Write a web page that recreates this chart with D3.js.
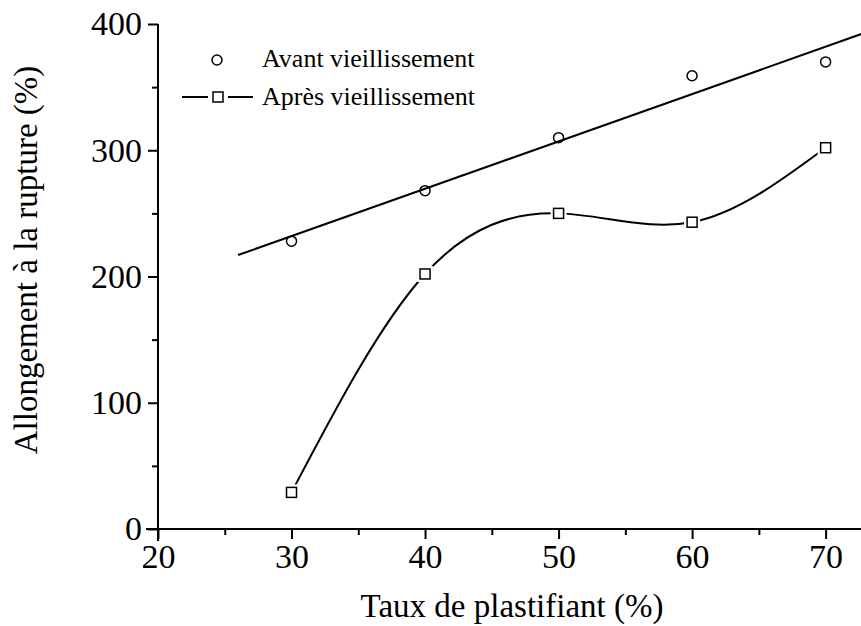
<!DOCTYPE html>
<html>
<head>
<meta charset="utf-8">
<script src="https://cdn.jsdelivr.net/npm/d3@7"></script>
<style>
  body { margin: 0; background: #fff; }
  svg text { font-family: "Liberation Serif", "Times New Roman", serif; }
</style>
</head>
<body>
<script>
// data
const taux = [30, 40, 50, 60, 70];
const avant = [228, 268, 310, 359, 370];
const apres = [29, 202, 250, 243, 302];
const xTicks = [20, 30, 40, 50, 60, 70];
const yTicks = [0, 100, 200, 300, 400];
const fitRange = [26, 73];

const W = 861, H = 626;
const margin = { top: 24, right: 0, bottom: 97, left: 158 };
const serif = "Liberation Serif, Times New Roman, serif";

const svg = d3.select("body").append("svg")
  .attr("width", W)
  .attr("height", H);

const x = d3.scaleLinear()
  .domain([20, 72.65])
  .range([margin.left, W - margin.right]);

const y = d3.scaleLinear()
  .domain([0, 400])
  .range([H - margin.bottom, margin.top]);

// clip so the fit line stops at the right edge
svg.append("clipPath").attr("id", "clip")
  .append("rect")
  .attr("x", margin.left).attr("y", 0)
  .attr("width", W - margin.left).attr("height", H - margin.bottom);

// least squares fit of the "avant" points
const mx = d3.mean(taux), my = d3.mean(avant);
const slope = d3.sum(taux, (t, i) => (t - mx) * (avant[i] - my)) / d3.sum(taux, t => (t - mx) ** 2);
const icpt = my - slope * mx;

const line = d3.line().x(d => x(d[0])).y(d => y(d[1]));

svg.append("path")
  .attr("clip-path", "url(#clip)")
  .attr("d", line(fitRange.map(t => [t, icpt + slope * t])))
  .attr("fill", "none")
  .attr("stroke", "#000")
  .attr("stroke-width", 2);

// spline through "apres"
svg.append("path")
  .attr("d", line.curve(d3.curveNatural)(taux.map((t, i) => [t, apres[i]])))
  .attr("fill", "none")
  .attr("stroke", "#000")
  .attr("stroke-width", 2);

// gaps around the square markers
svg.append("g")
  .selectAll("rect")
  .data(taux)
  .join("rect")
  .attr("x", (d, i) => x(d) - 8)
  .attr("y", (d, i) => y(apres[i]) - 8)
  .attr("width", 16)
  .attr("height", 16)
  .attr("fill", "#fff");

svg.append("g")
  .attr("fill", "#fff")
  .attr("stroke", "#000")
  .attr("stroke-width", 1.5)
  .selectAll("rect")
  .data(taux)
  .join("rect")
  .attr("x", (d, i) => x(d) - 5)
  .attr("y", (d, i) => y(apres[i]) - 5)
  .attr("width", 10)
  .attr("height", 10);

svg.append("g")
  .attr("fill", "none")
  .attr("stroke", "#000")
  .attr("stroke-width", 1.5)
  .selectAll("circle")
  .data(taux)
  .join("circle")
  .attr("cx", d => x(d))
  .attr("cy", (d, i) => y(avant[i]))
  .attr("r", 5);

// x-axis
const xAxis = svg.append("g")
  .attr("transform", `translate(0,${y(0)})`);
xAxis.append("g")
  .call(d3.axisBottom(x).tickValues(d3.range(25, 75, 10)).tickSize(6).tickFormat(""))
  .call(g => g.select(".domain").remove());
xAxis.append("g")
  .call(d3.axisBottom(x).tickValues(xTicks).tickSize(10).tickPadding(5).tickSizeOuter(0))
  .call(g => g.select(".domain").attr("d", `M${x(20) - 12},0H${W}`));
xAxis.selectAll("g").attr("font-family", serif);
xAxis.selectAll("line").attr("stroke-width", 2);
xAxis.selectAll(".domain").attr("stroke-width", 2);
xAxis.selectAll("text")
  .attr("font-family", serif)
  .attr("font-size", 34)
  .attr("fill", "#000");

// y-axis
const yAxis = svg.append("g")
  .attr("transform", `translate(${x(20)},0)`);
yAxis.append("g")
  .call(d3.axisLeft(y).tickValues(d3.range(50, 400, 100)).tickSize(6).tickFormat(""))
  .call(g => g.select(".domain").remove());
yAxis.append("g")
  .call(d3.axisLeft(y).tickValues(yTicks).tickSize(10).tickPadding(6).tickSizeOuter(0))
  .call(g => g.select(".domain").attr("d", `M0,${y(0) + 12}V${y(400)}`));
yAxis.selectAll("g").attr("font-family", serif);
yAxis.selectAll("line").attr("stroke-width", 2);
yAxis.selectAll(".domain").attr("stroke-width", 2);
yAxis.selectAll("text")
  .attr("font-family", serif)
  .attr("font-size", 34)
  .attr("fill", "#000");

// axis titles
svg.append("text")
  .attr("x", 512)
  .attr("y", 617)
  .attr("text-anchor", "middle")
  .attr("font-family", serif)
  .attr("font-size", 33)
  .text("Taux de plastifiant (%)");

svg.append("text")
  .attr("transform", `translate(37,${260}) rotate(-90)`)
  .attr("text-anchor", "middle")
  .attr("font-family", serif)
  .attr("font-size", 33)
  .text("Allongement à la rupture (%)");

// legend
const leg = svg.append("g").attr("font-size", 26).attr("font-family", serif);
leg.append("circle")
  .attr("cx", 217).attr("cy", 60).attr("r", 5)
  .attr("fill", "none").attr("stroke", "#000").attr("stroke-width", 1.5);
leg.append("text").attr("x", 262).attr("y", 67).text("Avant vieillissement");
leg.append("line")
  .attr("x1", 182).attr("x2", 253).attr("y1", 97).attr("y2", 97)
  .attr("stroke", "#000").attr("stroke-width", 2);
leg.append("rect")
  .attr("x", 208).attr("y", 87).attr("width", 20).attr("height", 20).attr("fill", "#fff");
leg.append("rect")
  .attr("x", 213).attr("y", 92).attr("width", 10).attr("height", 10)
  .attr("fill", "#fff").attr("stroke", "#000").attr("stroke-width", 1.5);
leg.append("text").attr("x", 262).attr("y", 105).text("Après vieillissement");
</script>
</body>
</html>
